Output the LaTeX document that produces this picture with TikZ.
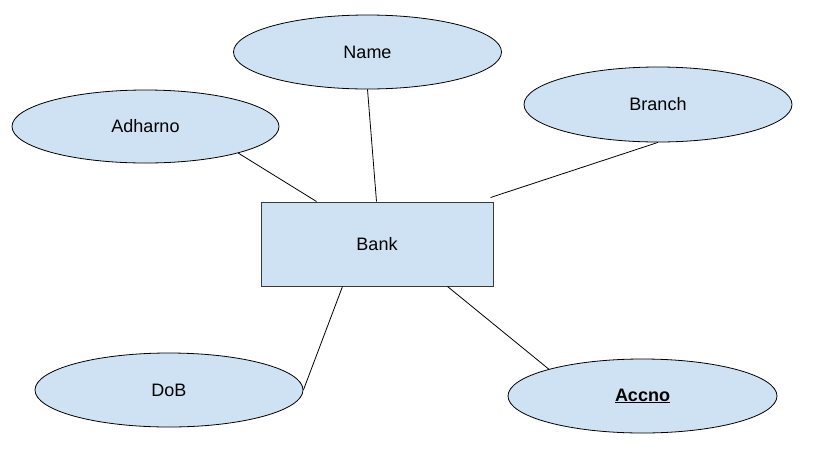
\documentclass[tikz,border=0pt]{standalone}
\usepackage{fontspec}
\setmainfont{Liberation Sans}
\usetikzlibrary{shapes.geometric}
\definecolor{attrfill}{HTML}{CFE2F3}
\definecolor{edgeline}{HTML}{3A3A3A}
\begin{document}
\begin{tikzpicture}[x=1pt,y=-1pt,
  attr/.style={ellipse, draw=black, line width=0.8pt, fill=attrfill, inner sep=0pt,
    minimum width=268pt, minimum height=74pt, font=\fontsize{18}{21}\selectfont},
  entity/.style={rectangle, draw=edgeline, line width=1pt, fill=attrfill, inner sep=0pt,
    minimum width=232pt, minimum height=84pt, font=\fontsize{18}{21}\selectfont},
  conn/.style={draw=black, line width=0.8pt}]
\useasboundingbox (0,0) rectangle (825,448);
\node[attr] (name) at (367.5,52) {Name};
\node[attr, minimum width=267pt, minimum height=73pt] (adh) at (145.5,126.5) {Adharno};
\node[attr, minimum height=75pt] (branch) at (658,104.5) {Branch};
\node[entity] (bank) at (377,244) {Bank};
\node[attr] (dob) at (169,390) {DoB};
\node[attr, minimum width=269pt] (accno) at (642.5,396) {\underline{\textbf{Accno}}};
\draw[conn] (adh.-16) -- ([xshift=56pt]bank.north west);
\draw[conn] (name.south) -- ([xshift=116pt]bank.north west);
\draw[conn] (branch.south) -- ([xshift=-3pt,yshift=4pt]bank.north east);
\draw[conn] (dob.east) -- ([xshift=82pt]bank.south west);
\draw[conn] (accno.164) -- ([xshift=187pt]bank.south west);
\end{tikzpicture}
\end{document}
